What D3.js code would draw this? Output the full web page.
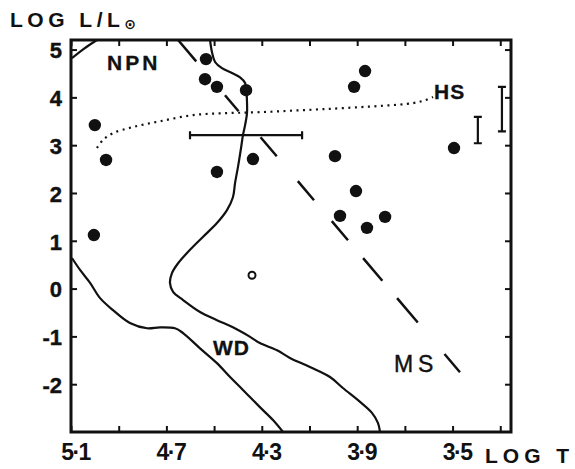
<!DOCTYPE html>
<html>
<head>
<meta charset="utf-8">
<script src="https://cdn.jsdelivr.net/npm/d3@7"></script>
<style>
  body { margin: 0; background: #fff; }
  text { font-family: "Liberation Sans", Arial, sans-serif; fill: #111; }
</style>
</head>
<body>
<div id="chart"></div>
<script>
// stars: log T, log L/Lsun
const starLogT = [4.534, 4.538, 4.488, 4.366, 5.0, 4.953, 4.488, 4.337, 5.004,
                  3.867, 3.913, 3.494, 3.993, 3.905, 3.972, 3.783, 3.859]
const starLogL = [4.80, 4.38, 4.22, 4.15, 3.42, 2.69, 2.44, 2.71, 1.12,
                  4.55, 4.22, 2.94, 2.77, 2.04, 1.52, 1.50, 1.27]
const openStar = [4.341, 0.28]

// tracks
const wdTrack = [[4.517, 5.2], [4.509, 4.95], [4.496, 4.74], [4.467, 4.61], [4.425, 4.51],
  [4.391, 4.42], [4.370, 4.30], [4.364, 4.11], [4.362, 3.90], [4.362, 3.67], [4.370, 3.42],
  [4.379, 3.21], [4.387, 2.94], [4.400, 2.54], [4.412, 2.21], [4.421, 1.91], [4.446, 1.64],
  [4.488, 1.37], [4.547, 1.08], [4.601, 0.81], [4.651, 0.53], [4.677, 0.32], [4.685, 0.12],
  [4.672, -0.07], [4.630, -0.24], [4.559, -0.49], [4.488, -0.66], [4.421, -0.81],
  [4.349, -1.01], [4.308, -1.14], [4.236, -1.29], [4.182, -1.45], [4.098, -1.64],
  [4.014, -1.85], [3.960, -2.08], [3.888, -2.37], [3.838, -2.60], [3.813, -2.81], [3.804, -3.0]]
const lowerTrack = [[5.096, 0.64], [5.062, 0.39], [5.020, 0.12], [4.978, -0.20], [4.924, -0.45],
  [4.853, -0.72], [4.781, -0.83], [4.727, -0.81], [4.664, -0.83], [4.630, -0.93],
  [4.559, -1.25], [4.488, -1.56], [4.433, -1.85], [4.379, -2.12], [4.308, -2.48],
  [4.253, -2.75], [4.211, -3.0]]
const cornerTrack = [[5.096, 4.82], [5.045, 5.02], [4.991, 5.2]]
const hsLine = [[4.991, 2.94], [4.966, 3.11], [4.924, 3.25], [4.840, 3.38], [4.727, 3.50],
  [4.588, 3.63], [4.446, 3.67], [4.308, 3.69], [4.140, 3.73], [3.943, 3.78], [3.666, 3.88],
  [3.616, 3.94], [3.582, 4.01]]
const msLine = [[4.651, 5.2], [3.469, -1.75]]

// error bars
const errorH = [4.601, 4.131, 3.21]            // t0, t1, l
const errorV = [[3.394, 3.59, 3.04], [3.293, 4.22, 3.29]]  // t, l0, l1

// labels
const regionLabels = [
  { text: "NPN", t: 4.949, l: 4.57, cls: "bold" },
  { text: "HS", t: 3.578, l: 3.96, cls: "bold" },
  { text: "WD", t: 4.505, l: -1.39, cls: "bold" },
  { text: "MS", t: 3.746, l: -1.75, cls: "thin" }
]

const xTicks = [5.1, 4.9, 4.7, 4.5, 4.3, 4.1, 3.9, 3.7, 3.5, 3.3]
const xTickLabels = { 5.1: "5·1", 4.7: "4·7", 4.3: "4·3", 3.9: "3·9", 3.5: "3·5" }
const yTicks = [-2, -1, 0, 1, 2, 3, 4, 5]

const W = 575, H = 469
const m = { left: 71, right: 511, top: 40, bottom: 432 }

const svg = d3.select("#chart").append("svg")
    .attr("width", W)
    .attr("height", H)

const x = d3.scaleLinear().domain([5.1, 3.255]).range([m.left, m.right])
const y = d3.scaleLinear().domain([-3, 5.2]).range([m.bottom, m.top])

// axes (ticks point inward)
const xAxis = svg.append("g")
    .attr("transform", `translate(0,${m.bottom})`)
    .call(d3.axisBottom(x).tickValues(xTicks).tickSize(-6).tickSizeOuter(0)
        .tickPadding(12).tickFormat(d => xTickLabels[d] || ""))
svg.append("g")
    .attr("transform", `translate(0,${m.top})`)
    .call(d3.axisTop(x).tickValues(xTicks).tickSize(-6).tickSizeOuter(0).tickFormat(""))
const yAxis = svg.append("g")
    .attr("transform", `translate(${m.left},0)`)
    .call(d3.axisLeft(y).tickValues(yTicks).tickSize(-6).tickSizeOuter(0)
        .tickPadding(9).tickFormat(d => d < 0 ? "-" + Math.abs(d) : d))
svg.append("g")
    .attr("transform", `translate(${m.right},0)`)
    .call(d3.axisRight(y).tickValues(yTicks).tickSize(-6).tickSizeOuter(0).tickFormat(""))

svg.selectAll(".domain").remove()
svg.selectAll(".tick line").attr("stroke", "#111").attr("stroke-width", 2)

xAxis.selectAll("text")
    .attr("dx", 4)
    .attr("dy", "0.71em")
    .style("font-size", "23px")
    .style("font-weight", "bold")
    .style("letter-spacing", "-1.5px")
yAxis.selectAll("text")
    .attr("dy", "0.38em")
    .style("font-size", "22px")
    .style("font-weight", "bold")
    .attr("stroke", "#111")
    .attr("stroke-width", 0.4)

// frame
svg.append("rect")
    .attr("x", m.left).attr("y", m.top)
    .attr("width", m.right - m.left).attr("height", m.bottom - m.top)
    .attr("fill", "none").attr("stroke", "#111").attr("stroke-width", 3)

const line = d3.line()
    .x(d => x(d[0]))
    .y(d => y(d[1]))
    .curve(d3.curveCatmullRom.alpha(0.5))

const g = svg.append("g")

g.selectAll(".track")
  .data([wdTrack, lowerTrack, cornerTrack])
  .join("path")
    .attr("class", "track")
    .attr("d", line)
    .attr("fill", "none")
    .attr("stroke", "#111")
    .attr("stroke-width", 2.2)

g.append("path")
    .attr("d", line(hsLine))
    .attr("fill", "none")
    .attr("stroke", "#111")
    .attr("stroke-width", 2.2)
    .attr("stroke-dasharray", "2 4.5")

g.append("path")
    .attr("d", d3.line().x(d => x(d[0])).y(d => y(d[1]))(msLine))
    .attr("fill", "none")
    .attr("stroke", "#111")
    .attr("stroke-width", 2.5)
    .attr("stroke-dasharray", "28 44.5 21 34 25 32.6 25 27.5 25 23.4 29.7 22.8 32 41.3 24.1 40")

// error bars
const cap = 4
g.append("path")
    .attr("d", `M${x(errorH[0])},${y(errorH[2])}H${x(errorH[1])}` +
               `M${x(errorH[0])},${y(errorH[2]) - cap}v${2 * cap}` +
               `M${x(errorH[1])},${y(errorH[2]) - cap}v${2 * cap}`)
    .attr("stroke", "#111").attr("stroke-width", 2.2).attr("fill", "none")
g.selectAll(".vbar")
  .data(errorV)
  .join("path")
    .attr("class", "vbar")
    .attr("d", d => `M${x(d[0])},${y(d[1])}V${y(d[2])}` +
                    `M${x(d[0]) - cap},${y(d[1])}h${2 * cap}` +
                    `M${x(d[0]) - cap},${y(d[2])}h${2 * cap}`)
    .attr("stroke", "#111").attr("stroke-width", 2.2).attr("fill", "none")

// stars
g.selectAll(".star")
  .data(d3.zip(starLogT, starLogL))
  .join("circle")
    .attr("class", "star")
    .attr("cx", d => x(d[0]))
    .attr("cy", d => y(d[1]))
    .attr("r", 6.2)
    .attr("fill", "#111")
g.append("circle")
    .attr("cx", x(openStar[0]))
    .attr("cy", y(openStar[1]))
    .attr("r", 3.5)
    .attr("fill", "#fff")
    .attr("stroke", "#111")
    .attr("stroke-width", 2)

// region labels
g.selectAll(".lab")
  .data(regionLabels)
  .join("text")
    .attr("class", "lab")
    .attr("x", d => x(d.t))
    .attr("y", d => y(d.l))
    .style("font-size", d => d.cls === "bold" ? "21px" : "23px")
    .style("font-weight", d => d.cls === "bold" ? "bold" : "normal")
    .style("letter-spacing", d => d.text === "NPN" ? "3px" : d.cls === "thin" ? "5px" : "1px")
    .attr("stroke", "#111")
    .attr("stroke-width", d => d.cls === "bold" ? 0.3 : 0.4)
    .text(d => d.text)

// axis titles
const yt = svg.append("text")
    .attr("x", 10).attr("y", 27)
    .style("font-size", "21px")
    .style("font-weight", "bold")
    .style("letter-spacing", "4.5px")
    .text("LOG L/L")
yt.append("tspan")
    .attr("dy", 2)
    .style("font-size", "14px")
    .style("letter-spacing", "0px")
    .style("font-family", "DejaVu Sans")
    .text("⊙")

svg.append("text")
    .attr("x", 485).attr("y", 463)
    .style("font-size", "21px")
    .style("font-weight", "bold")
    .style("letter-spacing", "5px")
    .text("LOG T")
</script>
</body>
</html>
